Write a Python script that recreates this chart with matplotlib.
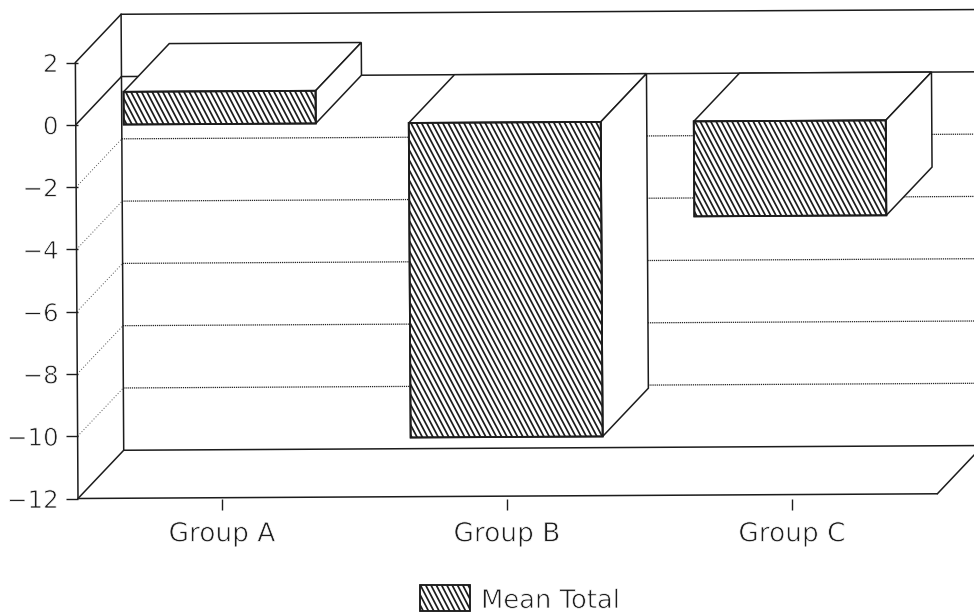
import matplotlib
matplotlib.use('agg')
import numpy as np
import matplotlib.pyplot as plt
import matplotlib.patheffects as pe
from matplotlib.patches import Polygon, Rectangle
from matplotlib.collections import LineCollection
from matplotlib.transforms import Affine2D, IdentityTransform

groups = ['Group A', 'Group B', 'Group C']
means = [1.05, -10.1, -3.05]
y_ticks = [2, 0, -2, -4, -6, -8, -10, -12]
y_labels = ['2', '0', '\u22122', '\u22124', '\u22126', '\u22128', '\u221210', '\u221212']
legend_label = 'Mean Total'

INK = '#1c1c1c'
W, H = 974, 615
PX_X = 285.0    # pixels per category
PX_Y = 31.15    # pixels per value unit
DX = 46 / PX_X  # depth of the box, data units
DY = 48 / PX_Y
HALF = 96 / PX_X
X0 = -144 / PX_X
X1 = 752 / PX_X
X_FLOOR = 2.51

# thin the glyphs, the original lettering is a light plotter font
THIN = [pe.Stroke(linewidth=0.55, foreground='white')]


def add_hatch(ax_or_fig, patch):
    # steep diagonal stripes, matplotlib's own hatch only does 45 degrees
    box = patch.get_path().transformed(patch.get_transform()).get_extents()
    step = 5.3
    run = box.height / 1.9
    segs = []
    for x in np.arange(box.x0 - 2, box.x1 + run + step, step):
        segs.append([(x - run - 2, box.y1 + 4), (x + 2, box.y0 - 4)])
    lc = LineCollection(segs, colors=INK, linewidths=1.25, transform=IdentityTransform(), zorder=patch.get_zorder())
    ax_or_fig.add_artist(lc)
    lc.set_clip_path(patch)


plt.rcParams['font.family'] = ['DejaVu Sans']
fig = plt.figure(figsize=(W / 100, H / 100), dpi=100)
ax = fig.add_axes([78 / W, (H - 498.5) / H, (W - 78) / W, 436 / H])
ax.set_xlim(X0, X1)
ax.set_ylim(-12, 2)
ax.patch.set_visible(False)
for s in ax.spines.values():
    s.set_visible(False)

ax.set_yticks(y_ticks)
ax.set_yticklabels(y_labels)
ax.set_xticks(range(len(groups)))
ax.set_xticklabels(groups)
ax.tick_params(axis='y', length=8.6, width=1.0, color=INK, pad=5.5, labelsize=17.6, labelcolor=INK)
ax.tick_params(axis='x', length=8, width=1.0, color=INK, pad=8.5, labelsize=19, labelcolor=INK)
for t in ax.get_xticklabels() + ax.get_yticklabels():
    t.set_path_effects(THIN)

# the scanned page is a little rotated
skew = Affine2D().translate(-78, -(H - 498.5)).skew(-0.006, 0.0055).translate(78, H - 498.5)
tr = ax.transData + skew


def line(xs, ys, **kw):
    style = dict(color=INK, lw=1.1, clip_on=False, transform=tr, zorder=2, solid_capstyle='round')
    style.update(kw)
    ax.plot(xs, ys, **style)


# walls and floor
top, bottom = y_ticks[0], y_ticks[-1]
bx = X0 + DX
line([X0, X0], [bottom, top])
line([bx, bx], [bottom + DY, top + DY])
line([bx, X1 + 0.1], [top + DY, top + DY])
line([bx, X1 + 0.1], [DY, DY])
line([bx, X1 + 0.1], [bottom + DY, bottom + DY])
line([X0, X_FLOOR], [bottom, bottom])
line([X0, bx], [top, top + DY])
line([X0, bx], [0, DY])
line([X0, bx], [bottom, bottom + DY])
line([X_FLOOR, X_FLOOR + DX], [bottom, bottom + DY])

for v in y_ticks[2:-1]:
    line([bx, X1 + 0.1], [v + DY, v + DY], lw=0.9, ls=(0, (1, 0.7)), color='#222222', zorder=1)
    line([X0, bx], [v, v + DY], lw=0.7, ls=(0, (1, 2)), color='#555555', zorder=1)

# boxes
for i, m in enumerate(means):
    l, r = i - HALF, i + HALF
    hi, lo = max(m, 0), min(m, 0)
    z = 3 + i
    for pts in ([(l, hi), (r, hi), (r + DX, hi + DY), (l + DX, hi + DY)],
                [(r, hi), (r + DX, hi + DY), (r + DX, lo + DY), (r, lo)]):
        ax.add_patch(Polygon(pts, closed=True, fc='white', ec=INK, lw=1.1, transform=tr, clip_on=False, zorder=z))
    face = Polygon([(l, lo), (r, lo), (r, hi), (l, hi)], closed=True, fc='white', ec=INK, lw=1.3,
                   transform=tr, clip_on=False, zorder=z)
    ax.add_patch(face)
    add_hatch(ax, face)
    ax.add_patch(Polygon([(l, lo), (r, lo), (r, hi), (l, hi)], closed=True, fc='none', ec=INK, lw=1.3,
                         transform=tr, clip_on=False, zorder=z + 0.5))

# legend
sw = Rectangle((420 / W, (H - 611) / H), 50 / W, 26 / H, fc='white', ec=INK, lw=1.1,
               transform=fig.transFigure, zorder=3)
fig.add_artist(sw)
add_hatch(fig, sw)
fig.add_artist(Rectangle((420 / W, (H - 611) / H), 50 / W, 26 / H, fc='none', ec=INK, lw=1.1,
                         transform=fig.transFigure, zorder=4))
fig.text(481 / W, (H - 601) / H, legend_label, fontsize=18.6, color=INK, ha='left', va='center',
         path_effects=THIN)

fig.savefig('out.png', dpi=100)
